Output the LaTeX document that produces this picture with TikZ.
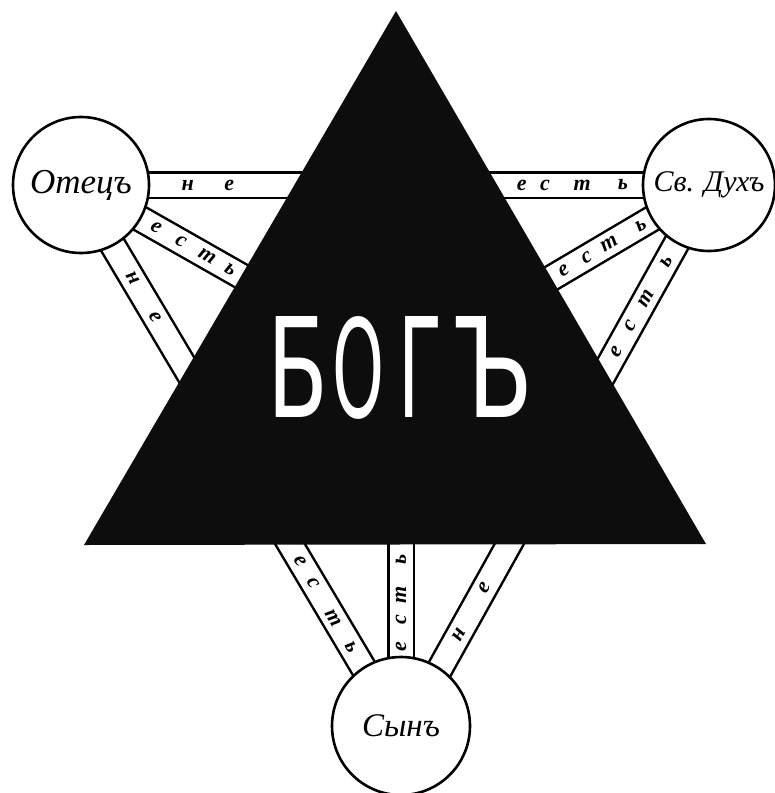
\documentclass[tikz,border=0pt]{standalone}
\usepackage{fontspec}
\usepackage{graphicx}
\newfontfamily\scrfont{Liberation Serif}
\newfontfamily\godfont{DejaVu Sans}
\begin{document}
\begin{tikzpicture}[x=1pt,y=-1pt,
  person/.style={circle, draw=black, line width=2.6pt, fill=white, minimum size=#1, inner sep=0pt},
  bandout/.style={line width=28pt, black},
  bandin/.style={line width=23pt, white},
  lt/.style={font=\scrfont\bfseries\itshape\fontsize{22}{22}\selectfont, inner sep=0pt, text=black},
  nm/.style={font=\scrfont\itshape\fontsize{#1}{#1}\selectfont, text=black}
]
\useasboundingbox (0,0) rectangle (775,793);
% centres
\coordinate (O) at (81,185);
\coordinate (D) at (709,185);
\coordinate (S) at (401,726);
\coordinate (G) at (401,367);
\coordinate (Oa) at (77,185);
\coordinate (Sa) at (398,726);
\coordinate (Sb) at (408,726);
\coordinate (T1) at (396,11);
\coordinate (T2) at (84,545);
\coordinate (T3) at (706,544);
% bands
\foreach \a/\b in {O/D, Oa/Sa, D/Sb, O/G, D/G, S/G}
  \draw[bandout] (\a) -- (\b);
\foreach \a/\b in {O/D, Oa/Sa, D/Sb, O/G, D/G, S/G}
  \draw[bandin] (\a) -- (\b);
% band letters
\path (O) -- (D)
  node[lt,pos=0.170]{н} node[lt,pos=0.236]{е}
  node[lt,pos=0.702]{е} node[lt,pos=0.739]{с} node[lt,pos=0.798]{т} node[lt,pos=0.863]{ь};
\path (O) -- (G)
  node[lt,rotate=-29.6,pos=0.235]{е} node[lt,rotate=-29.6,pos=0.312]{с}
  node[lt,rotate=-29.6,pos=0.394]{т} node[lt,rotate=-29.6,pos=0.466]{ь};
\path (Oa) -- (Sa)
  node[lt,rotate=-59.3,pos=0.173]{н} node[lt,rotate=-59.3,pos=0.245]{е}
  node[lt,rotate=-59.3,pos=0.696]{е} node[lt,rotate=-59.3,pos=0.735]{с}
  node[lt,rotate=-59.3,pos=0.800]{т} node[lt,rotate=-59.3,pos=0.855]{ь};
\path (D) -- (G)
  node[lt,rotate=30.6,pos=0.221]{ь} node[lt,rotate=30.6,pos=0.324]{т}
  node[lt,rotate=30.6,pos=0.397]{с} node[lt,rotate=30.6,pos=0.472]{е};
\path (D) -- (Sb)
  node[lt,rotate=60.9,pos=0.141]{ь} node[lt,rotate=60.9,pos=0.210]{т}
  node[lt,rotate=60.9,pos=0.261]{с} node[lt,rotate=60.9,pos=0.309]{е}
  node[lt,rotate=60.9,pos=0.745]{е} node[lt,rotate=60.9,pos=0.832]{н};
\path (S) -- (G)
  node[lt,rotate=90,pos=0.220]{е} node[lt,rotate=90,pos=0.295]{с}
  node[lt,rotate=90,pos=0.365]{т} node[lt,rotate=90,pos=0.465]{ь};
% triangle
\fill[black!95] (T1) -- (T2) -- (T3) -- cycle;
\node[text=white, inner sep=0pt] (bog) at (401,367.5)
  {\godfont\resizebox{61pt}{101pt}{Б}\hspace{3.5pt}\resizebox{52pt}{101pt}{О}\hspace{14pt}\resizebox{44pt}{101pt}{Г}\hspace{11.5pt}\resizebox{80pt}{101pt}{Ъ}};
% persons
\node[person=136pt, nm=35] (otec) at (O) {Отецъ};
\node[person=132pt, nm=30] (dukh) at (D) {Св. Духъ};
\node[person=138pt, nm=33] (syn) at (S) {Сынъ};
\end{tikzpicture}
\end{document}
